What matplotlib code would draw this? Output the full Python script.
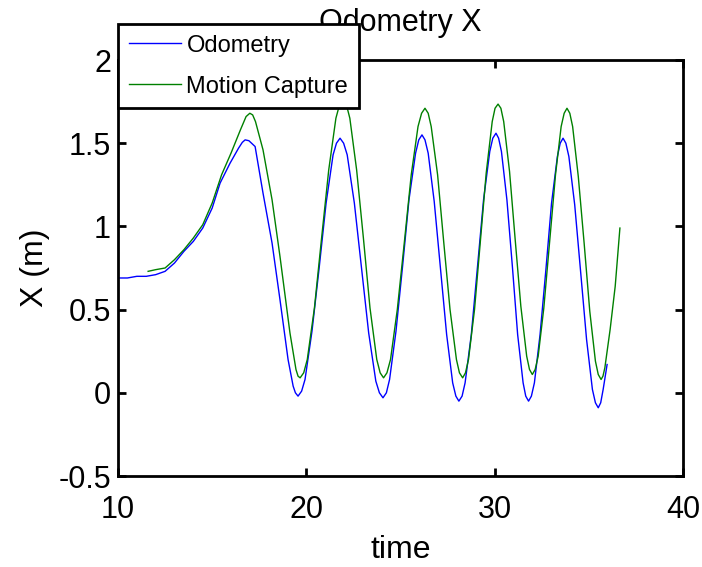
import numpy as np
import matplotlib.pyplot as plt

plt.rcParams['font.family'] = ['Liberation Sans', 'DejaVu Sans']

# Odometry estimate
odo_t = [10.0, 10.5, 11.0, 11.5, 12.0, 12.5, 13.0, 13.5, 14.0, 14.5, 15.0, 15.42,
         15.95, 16.4, 16.6, 16.75, 16.95, 17.28, 17.70, 18.18, 18.60, 19.03,
         19.30, 19.42, 19.56, 19.75,
         19.93, 20.30, 20.68, 21.05, 21.42, 21.60, 21.79, 21.98,
         22.17, 22.55, 22.93, 23.31, 23.69, 23.88, 24.07, 24.25,
         24.42, 24.76, 25.11, 25.45, 25.80, 25.97, 26.14, 26.30,
         26.47, 26.79, 27.12, 27.45, 27.77, 27.94, 28.10, 28.27,
         28.43, 28.76, 29.09, 29.41, 29.74, 29.90, 30.07, 30.21,
         30.36, 30.65, 30.94, 31.22, 31.51, 31.65, 31.80, 31.95,
         32.11, 32.41, 32.72, 33.02, 33.33, 33.48, 33.63, 33.78,
         33.94, 34.25, 34.57, 34.88, 35.19, 35.35, 35.50, 35.63,
         35.76, 35.97]
odo_x = [0.69, 0.69, 0.70, 0.70, 0.71, 0.73, 0.78, 0.85, 0.91, 0.99, 1.11, 1.26,
         1.38, 1.47, 1.505, 1.52, 1.515, 1.48, 1.20, 0.90, 0.56, 0.20,
         0.04, 0.00, -0.02, 0.01,
         0.08, 0.37, 0.75, 1.14, 1.43, 1.50, 1.53, 1.50,
         1.43, 1.14, 0.75, 0.36, 0.07, 0.00, -0.03, 0.00,
         0.08, 0.37, 0.76, 1.16, 1.44, 1.52, 1.55, 1.52,
         1.44, 1.15, 0.75, 0.35, 0.06, -0.02, -0.05, -0.02,
         0.06, 0.35, 0.76, 1.16, 1.45, 1.53, 1.56, 1.53,
         1.45, 1.16, 0.76, 0.35, 0.06, -0.02, -0.05, -0.02,
         0.06, 0.35, 0.74, 1.14, 1.42, 1.50, 1.53, 1.50,
         1.42, 1.13, 0.72, 0.32, 0.02, -0.06, -0.09, -0.06,
         0.02, 0.17]

# Motion capture ground truth
mocap_t = [11.6, 12.0, 12.5, 13.0, 13.5, 14.0, 14.5, 15.0, 15.5, 16.0, 16.5, 16.8,
           17.0, 17.15, 17.3, 17.70, 18.18, 18.60, 19.13, 19.45, 19.56, 19.67, 19.86,
           20.05, 20.43, 20.81, 21.19, 21.57, 21.76, 21.95, 22.13,
           22.31, 22.67, 23.03, 23.38, 23.74, 23.92, 24.10, 24.28,
           24.47, 24.83, 25.20, 25.57, 25.93, 26.12, 26.30, 26.47,
           26.63, 26.97, 27.30, 27.63, 27.97, 28.13, 28.30, 28.45,
           28.61, 28.93, 29.24, 29.55, 29.87, 30.02, 30.18, 30.33,
           30.48, 30.79, 31.09, 31.39, 31.70, 31.85, 32.00, 32.15,
           32.31, 32.61, 32.92, 33.23, 33.53, 33.69, 33.84, 33.99,
           34.14, 34.44, 34.75, 35.05, 35.35, 35.50, 35.65, 35.75,
           35.85, 36.13, 36.40, 36.65]
mocap_x = [0.73, 0.74, 0.75, 0.80, 0.86, 0.93, 1.01, 1.14, 1.31, 1.44, 1.58, 1.66,
           1.68, 1.67, 1.63, 1.46, 1.16, 0.82, 0.36, 0.14, 0.10, 0.09, 0.12,
           0.20, 0.51, 0.93, 1.34, 1.65, 1.73, 1.76, 1.73,
           1.65, 1.34, 0.93, 0.51, 0.20, 0.12, 0.09, 0.12,
           0.20, 0.50, 0.90, 1.31, 1.60, 1.68, 1.71, 1.68,
           1.60, 1.31, 0.90, 0.50, 0.20, 0.12, 0.09, 0.12,
           0.20, 0.50, 0.91, 1.32, 1.63, 1.71, 1.735, 1.71,
           1.63, 1.33, 0.92, 0.52, 0.22, 0.14, 0.11, 0.14,
           0.22, 0.51, 0.91, 1.31, 1.60, 1.68, 1.71, 1.68,
           1.60, 1.30, 0.90, 0.49, 0.19, 0.11, 0.08, 0.10,
           0.15, 0.38, 0.64, 0.99]

x_ticks = [10, 20, 30, 40]
y_ticks = [-0.5, 0, 0.5, 1, 1.5, 2]
y_tick_labels = ['-0.5', '0', '0.5', '1', '1.5', '2']

fig = plt.figure(figsize=(7.02, 5.67), dpi=100)
ax = fig.add_axes([118 / 702, 91 / 567, 565 / 702, 416 / 567])

ax.plot(odo_t, odo_x, color=(0, 0, 1), lw=1.0, label='Odometry')
ax.plot(mocap_t, mocap_x, color=(0, 0.5, 0), lw=1.0, label='Motion Capture')

ax.set_xlim(10, 40)
ax.set_ylim(-0.5, 2)
ax.set_xticks(x_ticks)
ax.set_yticks(y_ticks)
ax.set_yticklabels(y_tick_labels)

for s in ax.spines.values():
    s.set_linewidth(2)
ax.tick_params(direction='in', length=6, width=2, top=True, right=True,
               labelsize=22)
ax.tick_params(axis='x', pad=14)
ax.tick_params(axis='y', pad=5)

ax.set_xlabel('time', fontsize=23, labelpad=7)
ax.set_ylabel('X (m)', fontsize=23, labelpad=6)
ax.set_title('Odometry X', fontsize=22, pad=21)

leg = ax.legend(loc='upper left', bbox_to_anchor=(0, 1 + 36 / 416),
                borderaxespad=0, fontsize=17, fancybox=False, framealpha=1,
                edgecolor='black', handlelength=2.2, handletextpad=0.25,
                labelspacing=0.8, borderpad=0.45)
leg.get_frame().set_linewidth(2)

fig.savefig('out.png', dpi=100)
